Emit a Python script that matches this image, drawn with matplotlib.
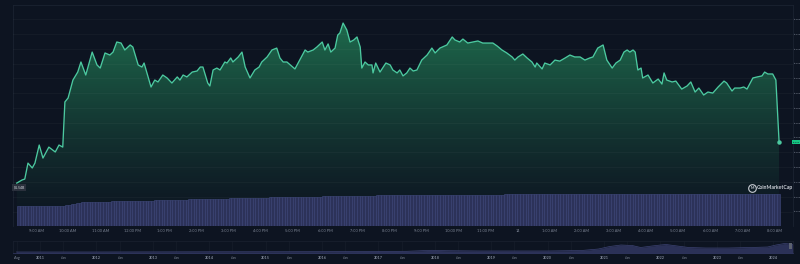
import numpy as np
import matplotlib
matplotlib.use("Agg")
import matplotlib.pyplot as plt
from matplotlib.colors import to_rgb
from matplotlib.patches import Rectangle
from matplotlib.lines import Line2D
import matplotlib.transforms as mtransforms

plt.rcParams['font.family'] = ['Lato', 'DejaVu Sans']

# ---------------- data ----------------
# minutes since 9:00 AM
times = [-36,-26,-21,-15,-7,-2,6,13,24,36,43,50,54,60,69,78,84,93,105,114,120,129,138,144,151,159,166,176,181,191,
         198,202,215,222,228,237,245,254,264,269,275,282,292,301,307,312,321,325,331,338,344,353,357,364,368,378,385,
         391,400,409,417,422,432,441,450,456,462,469,484,493,503,508,518,525,535,540,546,551,559,564,568,574,581,587,
         594,600,606,609,615,621,628,630,635,643,654,662,667,675,680,686,693,699,705,712,721,731,740,746,755,768,778,
         783,792,798,807,817,826,835,845,854,862,871,880,890,895,901,910,918,927,933,936,946,951,961,970,979,989,998,
         1007,1017,1026,1035,1041,1050,1060,1067,1077,1084,1092,1099,1105,1110,1116,1120,1125,1131,1134,1144,1153,
         1163,1170,1174,1179,1189,1196,1207,1217,1224,1232,1239,1248,1256,1265,1275,1286,1291,1301,1306,1316,1323,
         1329,1340,1348,1357,1362,1368,1377,1383,1389]
# market cap, $M
prices = [1539.3,1541.4,1542.0,1552.8,1549.5,1552.8,1565.0,1556.2,1563.6,1560.3,1565.0,1563.6,1594.1,1596.8,1608.9,
          1614.3,1621.1,1612.3,1627.8,1619.1,1617.0,1627.2,1625.8,1627.8,1634.6,1633.9,1629.2,1632.6,1631.2,1619.1,
          1617.7,1620.4,1604.2,1608.9,1607.6,1612.3,1610.3,1606.9,1611.0,1608.9,1612.3,1611.0,1614.3,1615.0,1617.7,
          1617.7,1606.9,1604.9,1615.7,1617.0,1615.7,1621.1,1620.4,1623.8,1621.1,1624.5,1627.8,1617.7,1610.3,1615.7,
          1617.7,1621.1,1624.5,1629.2,1630.5,1623.8,1621.1,1621.1,1616.4,1622.4,1629.2,1627.8,1629.2,1631.2,1634.6,
          1629.2,1633.3,1627.8,1630.5,1639.3,1640.7,1647.4,1642.7,1634.6,1636.0,1638.0,1631.2,1617.0,1621.1,1619.1,
          1619.1,1613.7,1620.4,1614.3,1620.4,1619.1,1615.7,1613.7,1615.7,1611.7,1613.7,1617.0,1615.0,1615.7,1622.4,
          1625.8,1630.5,1627.2,1630.5,1632.6,1638.0,1636.0,1634.6,1636.6,1633.9,1634.6,1635.3,1633.9,1633.9,1633.9,
          1631.9,1629.2,1627.2,1624.5,1622.4,1624.5,1626.5,1623.8,1621.1,1617.7,1620.4,1616.4,1620.4,1619.1,1622.4,
          1621.7,1623.8,1625.8,1624.5,1624.5,1622.4,1623.8,1624.5,1630.5,1632.6,1622.4,1617.0,1620.4,1622.4,1627.8,
          1629.2,1627.8,1629.2,1627.8,1615.7,1617.0,1610.3,1612.3,1606.9,1609.6,1606.2,1613.7,1608.9,1607.6,1608.2,
          1602.8,1604.9,1607.6,1600.8,1603.5,1598.8,1600.8,1600.1,1604.2,1608.2,1606.9,1601.5,1603.5,1603.5,1604.2,
          1602.8,1610.3,1611.0,1611.7,1614.3,1613.0,1613.0,1608.9,1567.0]

# 5-minute volume bars, starting 8:25 AM ($M)
volume = (
    [200, 200, 200, 200, 200, 200, 201] +
    [201, 201, 201, 201, 201, 201, 202, 202, 202, 203, 205, 208] +
    [212, 217, 223, 229, 235, 237, 238, 239, 240, 240, 241, 241] +
    [243, 244, 245, 245, 246, 246, 247, 247, 248, 248, 249, 249] +
    [250, 251, 252, 252, 253, 254, 255, 255, 256, 257, 258, 258] +
    [259, 260, 260, 261, 262, 263, 263, 264, 265, 266, 266, 267] +
    [268, 268, 269, 270, 270, 271, 272, 272, 273, 274, 274, 275] +
    [276, 276, 277, 278, 278, 279, 280, 280, 281, 282, 282, 283] +
    [284, 284, 285, 286, 286, 287, 288, 288, 289, 289, 290, 290] +
    [290, 291, 291, 292, 292, 293, 293, 294, 294, 295, 295, 296] +
    [296, 297, 297, 298, 298, 299, 299, 300, 300, 301, 301, 302] +
    [302, 303, 303, 304, 304, 305, 305, 306, 306, 307, 307, 308] +
    [308, 308, 309, 309, 309, 310, 310, 310, 310, 311, 311, 311] +
    [311, 311, 312, 312, 312, 312, 312, 313, 313, 313, 313, 313] +
    [313, 313, 313, 314, 314, 314, 314, 314, 314, 314, 315, 315] +
    [315, 315, 315, 315, 315, 315, 315, 316, 316, 316, 316, 316] +
    [316, 316, 316, 316, 316, 316, 316, 316, 316, 316, 316, 316] +
    [316, 316, 316, 317, 317, 317, 317, 317, 317, 317, 317, 317] +
    [317, 317, 317, 317, 317, 317, 317, 317, 317, 317, 317, 317] +
    [317, 317, 317, 318, 318, 318, 318, 318, 318, 318, 318, 318] +
    [318, 318, 318, 318, 318, 318, 318, 318, 318, 318, 318, 318] +
    [318, 318, 318, 319, 319, 319, 319, 319, 319, 319, 319, 319] +
    [319, 319, 319, 319, 319, 319, 319, 319, 319, 319, 319, 319] +
    [319, 319, 319, 320, 320, 320, 320, 320, 320, 320, 320, 320] +
    [320, 320]
)
vol_start = -35
vol_step = 5

hour_labels = ["9:00 AM", "10:00 AM", "11:00 AM", "12:00 PM", "1:00 PM", "2:00 PM", "3:00 PM", "4:00 PM",
               "5:00 PM", "6:00 PM", "7:00 PM", "8:00 PM", "9:00 PM", "10:00 PM", "11:00 PM", "14",
               "1:00 AM", "2:00 AM", "3:00 AM", "4:00 AM", "5:00 AM", "6:00 AM", "7:00 AM", "8:00 AM"]

price_ticks = [1520, 1530, 1540, 1550, 1560, 1570, 1580, 1590, 1600, 1610, 1620, 1630, 1640, 1650]

# navigator (all-time market cap, arbitrary units)
nav_year = [2010.58, 2012.0, 2014.0, 2016.0, 2017.5, 2017.95, 2018.2, 2018.8, 2019.5, 2020.0, 2020.6, 2020.9,
            2021.1, 2021.3, 2021.5, 2021.65, 2021.85, 2022.0, 2022.1, 2022.3, 2022.5, 2022.8, 2023.2, 2023.6,
            2023.9, 2024.05, 2024.2, 2024.3, 2024.35]
nav_val = [1.0, 1.0, 1.2, 1.3, 1.7, 2.7, 2.3, 2.0, 2.0, 2.0, 2.5, 4.0, 6.5, 8.0, 7.5, 5.5, 7.0, 8.0, 8.5, 7.0,
           5.5, 5.0, 5.0, 5.5, 6.0, 8.0, 9.5, 9.0, 8.5]
nav_tick_pos = [2010.59, 2011.0, 2011.41, 2012.0, 2012.41, 2013.0, 2013.41, 2014.0, 2014.41, 2015.0, 2015.41,
                2016.0, 2016.41, 2017.0, 2017.41, 2018.0, 2018.41, 2019.0, 2019.41, 2020.0, 2020.41, 2021.0,
                2021.41, 2022.0, 2022.41, 2023.0, 2023.41, 2024.0]
nav_tick_lab = ["Aug", "2011", "Jun", "2012", "Jun", "2013", "Jun", "2014", "Jun", "2015", "Jun", "2016", "Jun",
                "2017", "Jun", "2018", "Jun", "2019", "Jun", "2020", "Jun", "2021", "Jun", "2022", "Jun", "2023",
                "Jun", "2024"]

# ---------------- styling ----------------
BG = '#0d1421'
LINE = '#4cc9a0'
W, H = 800, 264


def rect(x0, y0, x1, y1):
    return [x0 / W, 1 - y1 / H, (x1 - x0) / W, (y1 - y0) / H]


fig = plt.figure(figsize=(8, 2.64), dpi=100, facecolor=BG)

ax = fig.add_axes(rect(13, 5, 793, 226))
ax.set_facecolor(BG)
XL = (-43, 1415)
YL = (1510.3, 1659.6)
ax.set_xlim(*XL)
ax.set_ylim(*YL)

# gradient area
bg = np.array(to_rgb(BG))
top = np.array(to_rgb('#207451'))
f = np.linspace(0, 1, 256)[:, None]
img = (bg + (top - bg) * f ** 1.3)[:, None, :]
im = ax.imshow(img, extent=[XL[0], XL[1], YL[0], YL[1]], origin='lower', aspect='auto', zorder=1,
               interpolation='bilinear')
poly = ax.fill_between(times, prices, YL[0], color='none', lw=0)
im.set_clip_path(poly.get_paths()[0], transform=ax.transData)

ax.plot(times, prices, color=LINE, lw=0.95, zorder=4, solid_joinstyle='round')
ax.plot(times[-1], prices[-1], 'o', ms=2.2, color=LINE, zorder=5)

ax.set_yticks(price_ticks)
ax.set_yticklabels([f"${v / 1000:.2f}B" for v in price_ticks])
ax.yaxis.tick_right()
ax.tick_params(axis='y', length=0, pad=0.8, labelsize=1.6, labelcolor='#8b93a1')
ax.grid(axis='y', color='#ffffff', alpha=0.045, lw=0.5, zorder=2)
ax.set_axisbelow(False)

ax.set_xticks(list(range(0, 60 * len(hour_labels), 60)))
ax.set_xticklabels(hour_labels)
ax.tick_params(axis='x', length=0, pad=2.2, labelsize=2.8, labelcolor='#7d8595')

for s in ['top', 'left', 'right']:
    ax.spines[s].set_color('#1b2331')
    ax.spines[s].set_linewidth(0.6)
ax.spines['bottom'].set_visible(False)

# current value tag
trans = mtransforms.blended_transform_factory(ax.transAxes, ax.transData)
ax.text(0.9995, prices[-1], f"${prices[-1] / 1000:.2f}B", transform=trans, ha='left', va='center',
        fontsize=1.5, color='#0d1421', clip_on=False, zorder=6,
        bbox=dict(boxstyle='square,pad=0.45', fc='#16c784', ec='none'))

# start label
ax.annotate(f"${prices[0] / 1000:.2f}B", xy=(times[0], prices[0]), xytext=(-2.2, -1.6),
            textcoords='offset points', ha='left', va='top', fontsize=2.5, color='#d0d4da', zorder=6,
            bbox=dict(boxstyle='square,pad=0.35', fc='#2a303c', ec='none'))

# volume overlay
axv = fig.add_axes(rect(13, 5, 793, 226))
axv.set_xlim(*XL)
axv.set_ylim(0, 2210)
axv.patch.set_visible(False)
axv.axis('off')
vol_x = [vol_start + vol_step * i for i in range(len(volume))]
axv.bar(vol_x, volume, width=vol_step, align='edge', color='#2c3259', edgecolor='#414a7e', linewidth=0.4)

# watermark
fig.add_artist(Line2D([752 / W], [1 - 188 / H], marker='o', ms=5.5, mfc='none', mec='#c9cdd4', mew=0.8,
                      transform=fig.transFigure))
fig.text(752 / W, 1 - 188 / H, "M", fontsize=2.6, fontweight='bold', color='#c9cdd4', ha='center', va='center')
fig.text(757 / W, 1 - 188 / H, "CoinMarketCap", fontsize=3.7, fontweight='bold', color='#c9cdd4', va='center')

# navigator
axn = fig.add_axes(rect(13, 241, 793, 253))
axn.set_facecolor(BG)
axn.set_xlim(2010.52, 2024.35)
axn.set_ylim(0, 12)
axn.fill_between(nav_year, nav_val, 0, color='#2b3157', lw=0, zorder=2)
axn.plot(nav_year, nav_val, color='#3d4374', lw=0.5, zorder=3)
axn.set_yticks([])
axn.set_xticks(nav_tick_pos)
axn.set_xticklabels(nav_tick_lab)
for lab in axn.get_xticklabels():
    if lab.get_text().isdigit():
        lab.set_fontweight('bold')
axn.tick_params(axis='x', length=0, pad=2.0, labelsize=2.8, labelcolor='#7d8595')
axn.grid(axis='x', color='#ffffff', alpha=0.04, lw=0.5)
for s in axn.spines.values():
    s.set_color('#1a2130')
    s.set_linewidth(0.5)
axn.spines['bottom'].set_color('#343a66')
fig.add_artist(Rectangle((789 / W, 1 - 249 / H), 3 / W, 6 / H, fc='#5b6170', ec='none',
                         transform=fig.transFigure))

fig.savefig("out.png", dpi=100, facecolor=BG)
